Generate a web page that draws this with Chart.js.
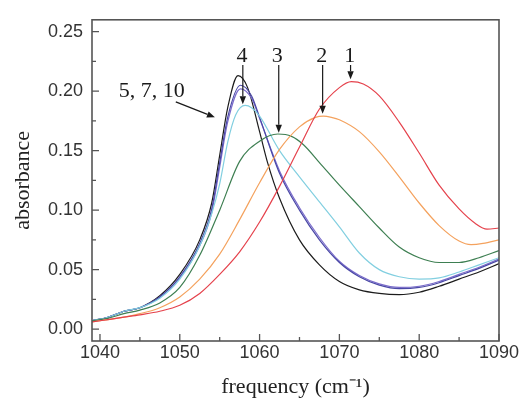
<!DOCTYPE html>
<html>
<head>
<meta charset="utf-8">
<script src="https://cdn.jsdelivr.net/npm/chart.js@4/dist/chart.umd.min.js"></script>
<style>
  html, body { margin: 0; padding: 0; background: #ffffff; }
  #wrap { width: 524px; height: 400px; }
</style>
</head>
<body>
<div id="wrap"><canvas id="c" width="524" height="400"></canvas></div>
<script>
// ---- tick labels ----
const xTicks = [1040, 1050, 1060, 1070, 1080, 1090];
const yTicks = [0.00, 0.05, 0.10, 0.15, 0.20, 0.25];

// ---- series 1 (red) ----
const f1 = [1039, 1041, 1043, 1045, 1047.5, 1050, 1052.5, 1055, 1057.5, 1060, 1062.5, 1065, 1067.5, 1070, 1071.5, 1073, 1075, 1077.5, 1080, 1082.5, 1085, 1087, 1088.5, 1090];
const a1 = [0.006, 0.008, 0.010, 0.012, 0.015, 0.020, 0.030, 0.046, 0.065, 0.090, 0.120, 0.153, 0.185, 0.203, 0.208, 0.206, 0.196, 0.174, 0.148, 0.121, 0.101, 0.089, 0.084, 0.085];

// ---- series 2 (orange) ----
const f2 = [1039, 1041, 1043, 1045, 1047.5, 1050, 1052.5, 1055, 1057.5, 1060, 1062.5, 1065, 1067, 1068, 1069, 1070, 1072.5, 1075, 1077.5, 1080, 1082.5, 1085, 1086.5, 1088, 1090];
const a2 = [0.006, 0.008, 0.010, 0.013, 0.018, 0.027, 0.042, 0.063, 0.092, 0.123, 0.151, 0.170, 0.178, 0.179, 0.178, 0.176, 0.166, 0.149, 0.128, 0.106, 0.087, 0.074, 0.071, 0.072, 0.075];

// ---- series 3 (green) ----
const f3 = [1039, 1041, 1043, 1045, 1047.5, 1050, 1052.5, 1055, 1057.5, 1060, 1062.3, 1064, 1065.5, 1067.5, 1070, 1072.5, 1075, 1077.5, 1080, 1082.5, 1085, 1087.5, 1090];
const a3 = [0.007, 0.009, 0.013, 0.016, 0.022, 0.035, 0.062, 0.100, 0.141, 0.158, 0.164, 0.162, 0.155, 0.140, 0.121, 0.103, 0.085, 0.069, 0.060, 0.056, 0.056, 0.060, 0.066];

// ---- series 4 (light blue) ----
const f4 = [1039, 1041, 1043, 1045, 1047.5, 1050, 1052.5, 1054, 1055, 1056, 1057, 1058.2, 1059, 1060, 1062.5, 1065, 1067.5, 1070, 1072.5, 1075, 1077.5, 1080, 1082.5, 1085, 1087.5, 1090];
const a4 = [0.007, 0.010, 0.015, 0.018, 0.026, 0.042, 0.070, 0.097, 0.122, 0.157, 0.180, 0.188, 0.186, 0.179, 0.150, 0.128, 0.107, 0.086, 0.064, 0.050, 0.044, 0.042, 0.043, 0.048, 0.054, 0.060];

// ---- series 5 / 7 (blue, purple) ----
const f5 = [1039, 1041, 1043, 1045, 1047.5, 1050, 1052.5, 1054, 1055, 1056, 1057.6, 1059, 1060, 1062.5, 1065, 1067.5, 1070, 1072.5, 1075, 1077.5, 1080, 1082.5, 1085, 1087.5, 1090];
const a5 = [0.007, 0.010, 0.015, 0.018, 0.027, 0.044, 0.072, 0.101, 0.140, 0.178, 0.205, 0.196, 0.178, 0.131, 0.100, 0.075, 0.056, 0.044, 0.037, 0.034, 0.035, 0.039, 0.045, 0.051, 0.058];
const f7 = f5;
const a7 = [0.007, 0.010, 0.015, 0.018, 0.027, 0.043, 0.070, 0.098, 0.136, 0.174, 0.202, 0.194, 0.177, 0.133, 0.102, 0.077, 0.057, 0.045, 0.038, 0.035, 0.036, 0.040, 0.046, 0.052, 0.059];

// ---- series 10 (black) ----
const f10 = [1039, 1041, 1043, 1045, 1047.5, 1050, 1052.5, 1054, 1055, 1056, 1057.3, 1058.5, 1060, 1061, 1062.5, 1065, 1067.5, 1070, 1072.5, 1075, 1077.5, 1080, 1082.5, 1085, 1087.5, 1090];
const a10 = [0.007, 0.010, 0.015, 0.018, 0.028, 0.046, 0.075, 0.106, 0.146, 0.186, 0.213, 0.203, 0.166, 0.140, 0.110, 0.075, 0.054, 0.040, 0.033, 0.030, 0.029, 0.031, 0.036, 0.042, 0.048, 0.055];

// ---- annotations (data units) ----
const noteText = ['4', '3', '2', '1', '5, 7, 10'];
const noteX = [1057.8, 1062.2, 1067.8, 1071.3, 1046.5];
const noteY = [0.2295, 0.2295, 0.2295, 0.2295, 0.2];
const arrowX0 = [1057.9, 1062.4, 1067.9, 1071.4, 1049.5];
const arrowY0 = [0.222, 0.222, 0.222, 0.222, 0.191];
const arrowX1 = [1057.9, 1062.4, 1067.9, 1071.4, 1054.4];
const arrowY1 = [0.189, 0.165, 0.181, 0.210, 0.178];

function pts(f, a) { return f.map((x, i) => ({ x: x, y: a[i] })); }
function ds(f, a, color) {
  return { data: pts(f, a), borderColor: color, borderWidth: 1.2, pointRadius: 0,
           fill: false, cubicInterpolationMode: 'monotone' };
}

const framePlugin = {
  id: 'frameTicks',
  afterDatasetsDraw(chart) {
    const ctx = chart.ctx;
    const area = chart.chartArea;
    const xs = chart.scales.x, ys = chart.scales.y;
    ctx.save();
    // frame
    ctx.strokeStyle = '#555555';
    ctx.lineWidth = 1.6;
    ctx.strokeRect(area.left, area.top, area.right - area.left, area.bottom - area.top);
    // inward ticks
    ctx.lineWidth = 1.3;
    ctx.beginPath();
    xTicks.forEach((v, i) => {
      const px = xs.getPixelForValue(v);
      ctx.moveTo(px, area.bottom); ctx.lineTo(px, area.bottom - 7);
      if (i < xTicks.length - 1) {
        const mx = xs.getPixelForValue((v + xTicks[i + 1]) / 2);
        ctx.moveTo(mx, area.bottom); ctx.lineTo(mx, area.bottom - 4);
      }
    });
    yTicks.forEach((v, i) => {
      const py = ys.getPixelForValue(v);
      ctx.moveTo(area.left, py); ctx.lineTo(area.left + 7, py);
      if (i < yTicks.length - 1) {
        const my = ys.getPixelForValue((v + yTicks[i + 1]) / 2);
        ctx.moveTo(area.left, my); ctx.lineTo(area.left + 4, my);
      }
    });
    ctx.stroke();

    // arrows
    ctx.strokeStyle = '#1a1a1a';
    ctx.fillStyle = '#1a1a1a';
    ctx.lineWidth = 1.2;
    for (let i = 0; i < arrowX0.length; i++) {
      const x0 = xs.getPixelForValue(arrowX0[i]), y0 = ys.getPixelForValue(arrowY0[i]);
      const x1 = xs.getPixelForValue(arrowX1[i]), y1 = ys.getPixelForValue(arrowY1[i]);
      const ang = Math.atan2(y1 - y0, x1 - x0);
      const hl = 8, hw = 3.2;
      const bx = x1 - hl * Math.cos(ang), by = y1 - hl * Math.sin(ang);
      ctx.beginPath();
      ctx.moveTo(x0, y0); ctx.lineTo(bx, by);
      ctx.stroke();
      ctx.beginPath();
      ctx.moveTo(x1, y1);
      ctx.lineTo(bx + hw * Math.sin(ang), by - hw * Math.cos(ang));
      ctx.lineTo(bx - hw * Math.sin(ang), by + hw * Math.cos(ang));
      ctx.closePath();
      ctx.fill();
    }
    // labels
    ctx.font = '22px "Liberation Serif", "Times New Roman", serif';
    ctx.textAlign = 'center';
    ctx.textBaseline = 'middle';
    for (let i = 0; i < noteText.length; i++) {
      ctx.fillText(noteText[i], xs.getPixelForValue(noteX[i]), ys.getPixelForValue(noteY[i]));
    }
    ctx.restore();
  }
};

new Chart(document.getElementById('c'), {
  type: 'line',
  data: {
    datasets: [
      ds(f1, a1, '#e5424c'),
      ds(f2, a2, '#f4a25e'),
      ds(f3, a3, '#3e7f52'),
      ds(f4, a4, '#82cfe0'),
      ds(f5, a5, '#4a48a6'),
      ds(f7, a7, '#7b6ccc'),
      ds(f10, a10, '#1c1c1c')
    ]
  },
  options: {
    responsive: false,
    animation: false,
    devicePixelRatio: 1,
    layout: { padding: { top: 14, right: 25, left: 0, bottom: 0 } },
    plugins: { legend: { display: false }, tooltip: { enabled: false } },
    scales: {
      x: {
        type: 'linear', min: 1039, max: 1090,
        grid: { display: false, drawTicks: false },
        border: { display: false },
        afterBuildTicks: (s) => { s.ticks = xTicks.map(v => ({ value: v })); },
        afterFit: (s) => { s.height = 59; },
        ticks: { color: '#333', padding: 1, maxRotation: 0,
                 font: { family: '"Liberation Sans", Arial, sans-serif', size: 18 },
                 callback: (v) => String(v) },
        title: { display: true, text: 'frequency (cm\u207B\u00B9)', color: '#222',
                 padding: { top: 0, bottom: 0 },
                 font: { family: '"Liberation Serif", "Times New Roman", serif', size: 22 } }
      },
      y: {
        type: 'linear', min: -0.01, max: 0.26,
        grid: { display: false, drawTicks: false },
        border: { display: false },
        afterBuildTicks: (s) => { s.ticks = yTicks.map(v => ({ value: v })); },
        afterFit: (s) => { s.width = 92; },
        ticks: { color: '#333', padding: 9,
                 font: { family: '"Liberation Sans", Arial, sans-serif', size: 18 },
                 callback: (v) => Number(v).toFixed(2) },
        title: { display: true, text: 'absorbance', color: '#222',
                 padding: { top: 10, bottom: 0 },
                 font: { family: '"Liberation Serif", "Times New Roman", serif', size: 22 } }
      }
    }
  },
  plugins: [framePlugin]
});
</script>
</body>
</html>
